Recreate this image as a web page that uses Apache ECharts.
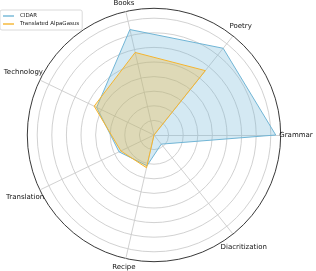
<!DOCTYPE html>
<html>
<head>
<meta charset="utf-8">
<script src="https://cdn.jsdelivr.net/npm/echarts@6/dist/echarts.min.js"></script>
<style>html,body{margin:0;padding:0;background:#fff;}#c{width:316px;height:271px;}</style>
</head>
<body>
<div id="c"></div>
<script>
// Data (ring step = 10, outer edge ~86.8)
const categories = ['Grammar', 'Poetry', 'Books', 'Technology', 'Translation', 'Recipe', 'Diacritization'];
const seriesNames = ['CIDAR', 'Translated AlpaGasus'];
const cidar = [83.4, 76, 74.1, 43.6, 26.6, 21.6, 8];
const alpagasus = [0, 56.4, 58, 45.5, 25.2, 23, 0];
const ringMax = 80;
const outerMax = 86.8;

// Layout only: extra radial offset (px) of each category label
const labelShift = [7, 4, 0, 10, 8, 0.4, 9];

const FONT = 'DejaVu Sans';
const rich = {};
categories.forEach((c, i) => {
  const a = i * 2 * Math.PI / categories.length;
  const dx = labelShift[i] * Math.cos(a);
  const dy = -labelShift[i] * Math.sin(a);
  rich['k' + i] = {
    fontFamily: FONT, fontSize: 7, color: '#111',
    padding: [dy > 0 ? 2 * dy : 0, dx < 0 ? -2 * dx : 0, dy < 0 ? -2 * dy : 0, dx > 0 ? 2 * dx : 0]
  };
});

const chart = echarts.init(document.getElementById('c'), null, {renderer: 'canvas'});
chart.setOption({
  animation: false,
  backgroundColor: '#fff',
  legend: {
    left: 0, top: 10, orient: 'vertical',
    data: seriesNames,
    padding: [3, 3, 3, 3],
    itemGap: 2,
    itemWidth: 11, itemHeight: 1.4,
    icon: 'rect',
    borderColor: '#d0d0d0', borderWidth: 0.8, borderRadius: 2,
    backgroundColor: '#fff',
    textStyle: {fontFamily: FONT, fontSize: 5.5, color: '#222', padding: [0, 0, 0, 1]}
  },
  radar: [
    {
      center: [154, 135], radius: 116.8, startAngle: 0, shape: 'circle', splitNumber: 8,
      indicator: categories.map(() => ({name: '', min: 0, max: ringMax})),
      axisName: {show: false},
      axisLine: {show: false},
      axisTick: {show: false},
      axisLabel: {show: false},
      splitArea: {show: false},
      splitLine: {lineStyle: {color: '#cccccc', width: 0.9}}
    },
    {
      center: [154, 135], radius: 126.7, startAngle: 0, shape: 'circle', splitNumber: 1,
      indicator: categories.map(n => ({name: n, min: 0, max: outerMax})),
      nameGap: 8.3,
      axisName: {
        fontFamily: FONT, fontSize: 7, color: '#111', align: 'center', verticalAlign: 'middle',
        formatter: (name) => '{k' + categories.indexOf(name) + '|' + name + '}',
        rich: rich
      },
      axisLine: {lineStyle: {color: '#cccccc', width: 0.9}},
      splitArea: {show: false},
      splitLine: {lineStyle: {color: '#222', width: 0.9}}
    }
  ],
  series: [{
    type: 'radar',
    radarIndex: 1,
    symbol: 'none',
    data: [
      {name: seriesNames[0], value: cidar,
        itemStyle: {color: '#72b6d6'},
        lineStyle: {color: '#72b6d6', width: 1},
        areaStyle: {color: '#72b6d6', opacity: 0.3}},
      {name: seriesNames[1], value: alpagasus,
        itemStyle: {color: '#f5b530'},
        lineStyle: {color: '#f5b530', width: 1},
        areaStyle: {color: '#f5b530', opacity: 0.3}}
    ]
  }]
});
</script>
</body>
</html>
